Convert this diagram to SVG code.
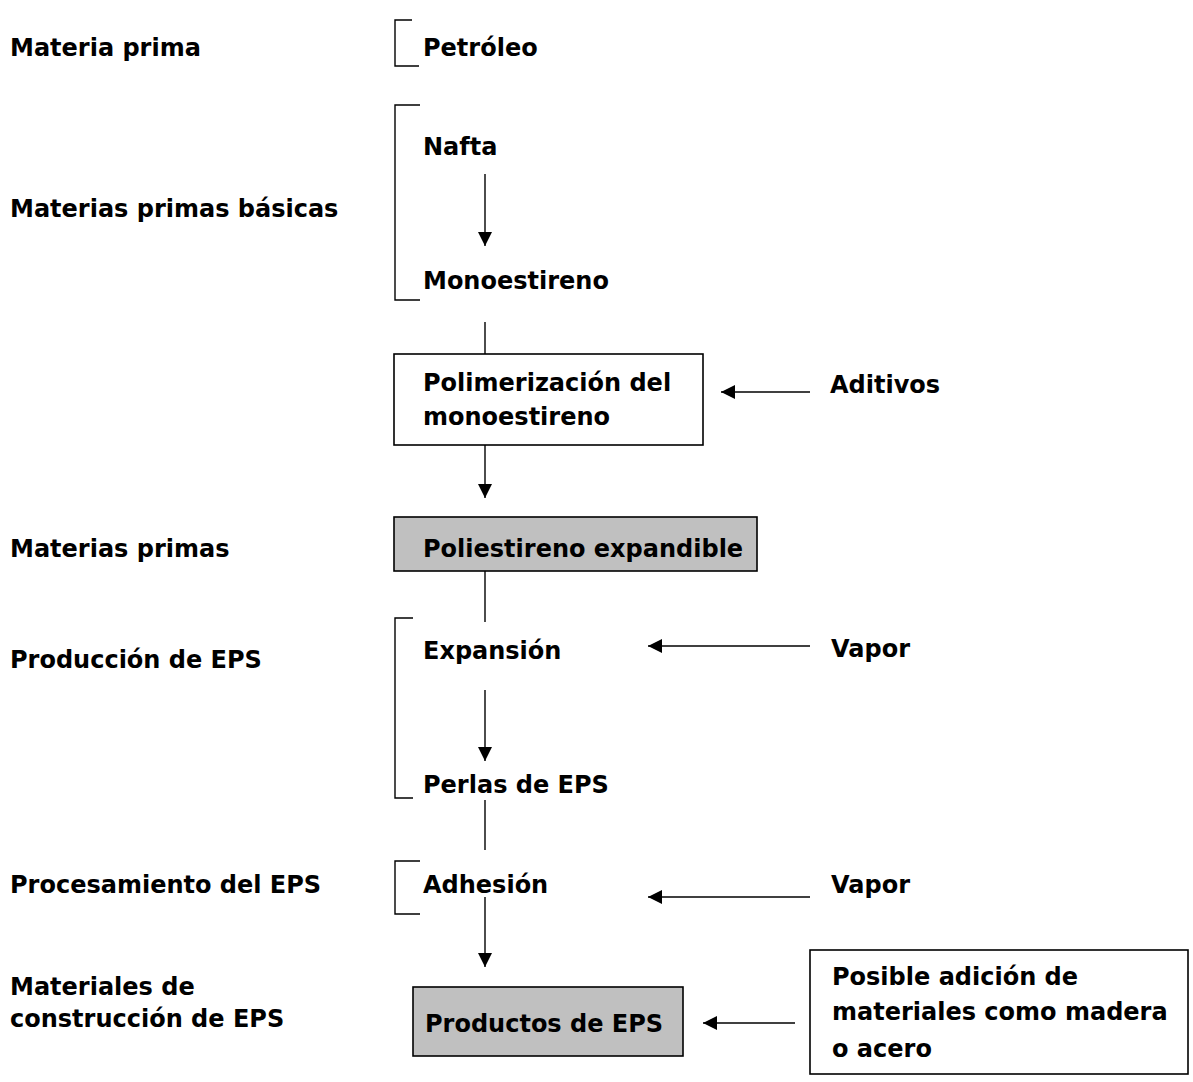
<svg xmlns="http://www.w3.org/2000/svg" width="1193" height="1082" viewBox="0 0 1193 1082">
<style>
text{font-family:"DejaVu Sans","Liberation Sans",sans-serif;font-weight:bold;font-size:24px;fill:#000}
.ln{stroke:#000;stroke-width:1.4;fill:none}
.box{stroke:#000;stroke-width:1.6;fill:#fff}
.gray{fill:#c0c0c0}
</style>
<defs>
<marker id="ah" markerUnits="userSpaceOnUse" markerWidth="16" markerHeight="14" refX="14" refY="7" orient="auto">
<path d="M0,0 L14,7 L0,14 Z" fill="#000"/>
</marker>
</defs>
<rect width="1193" height="1082" fill="#fff"/>
<g id="labels">
<text x="10" y="56">Materia prima</text>
<text x="10" y="217">Materias primas básicas</text>
<text x="10" y="557">Materias primas</text>
<text x="10" y="668">Producción de EPS</text>
<text x="10" y="893">Procesamiento del EPS</text>
<text x="10" y="995">Materiales de</text>
<text x="10" y="1027">construcción de EPS</text>
</g>
<g id="brackets">
<path class="ln" d="M412,20 H395 V66 H419"/>
<path class="ln" d="M420,105 H395 V300 H420"/>
<path class="ln" d="M413,618 H395 V798 H413"/>
<path class="ln" d="M420,861 H395 V914 H420"/>
</g>
<g id="petroleo"><text x="423" y="56">Petróleo</text></g>
<g id="nafta"><text x="423" y="155">Nafta</text></g>
<g id="monoestireno"><text x="423" y="289">Monoestireno</text></g>
<g id="polimerizacion">
<rect class="box" x="394" y="354" width="309" height="91"/>
<text x="423" y="391">Polimerización del</text>
<text x="423" y="425">monoestireno</text>
</g>
<g id="aditivos"><text x="830" y="393">Aditivos</text></g>
<g id="poliestireno">
<rect class="box gray" x="394" y="517" width="363" height="54"/>
<text x="423" y="557">Poliestireno expandible</text>
</g>
<g id="expansion"><text x="423" y="659">Expansión</text></g>
<g id="vapor1"><text x="831" y="657">Vapor</text></g>
<g id="perlas"><text x="423" y="793">Perlas de EPS</text></g>
<g id="adhesion"><text x="423" y="893">Adhesión</text></g>
<g id="vapor2"><text x="831" y="893">Vapor</text></g>
<g id="productos">
<rect class="box gray" x="413" y="987" width="270" height="69"/>
<text x="425" y="1032">Productos de EPS</text>
</g>
<g id="adicion">
<rect class="box" x="810" y="950" width="378" height="124"/>
<text x="832" y="985">Posible adición de</text>
<text x="832" y="1020">materiales como madera</text>
<text x="832" y="1057">o acero</text>
</g>
<g id="connectors">
<line class="ln" x1="485" y1="174" x2="485" y2="246" marker-end="url(#ah)"/>
<line class="ln" x1="485" y1="322" x2="485" y2="354"/>
<line class="ln" x1="485" y1="445" x2="485" y2="498" marker-end="url(#ah)"/>
<line class="ln" x1="810" y1="392" x2="721" y2="392" marker-end="url(#ah)"/>
<line class="ln" x1="485" y1="571" x2="485" y2="622"/>
<line class="ln" x1="810" y1="646" x2="648" y2="646" marker-end="url(#ah)"/>
<line class="ln" x1="485" y1="690" x2="485" y2="761" marker-end="url(#ah)"/>
<line class="ln" x1="485" y1="800" x2="485" y2="850"/>
<line class="ln" x1="810" y1="897" x2="648" y2="897" marker-end="url(#ah)"/>
<line class="ln" x1="485" y1="897" x2="485" y2="967" marker-end="url(#ah)"/>
<line class="ln" x1="795" y1="1023" x2="703" y2="1023" marker-end="url(#ah)"/>
</g>
</svg>
